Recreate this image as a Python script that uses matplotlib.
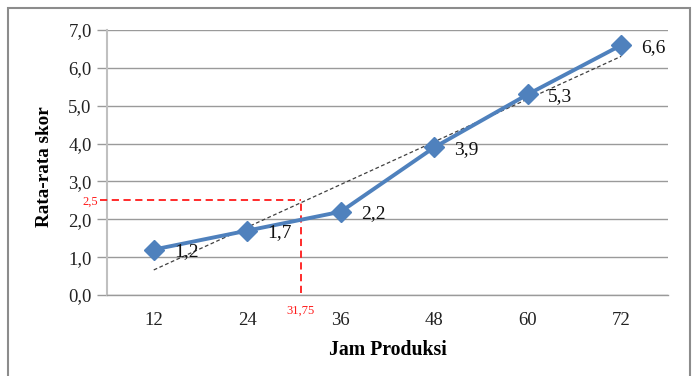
import matplotlib
matplotlib.use("Agg")
import matplotlib.pyplot as plt
import numpy as np
from matplotlib.patches import Rectangle

categories = ["12", "24", "36", "48", "60", "72"]
values = [1.2, 1.7, 2.2, 3.9, 5.3, 6.6]
value_labels = ["1,2", "1,7", "2,2", "3,9", "5,3", "6,6"]
yticks = [0, 1, 2, 3, 4, 5, 6, 7]
ytick_labels = ["0,0", "1,0", "2,0", "3,0", "4,0", "5,0", "6,0", "7,0"]
ref_y = 2.5
ref_y_label = "2,5"
ref_x_label = "31,75"

plt.rcParams['font.family'] = ['Liberation Serif', 'DejaVu Serif']

fig = plt.figure(figsize=(6.94, 3.76), dpi=100)
ax = fig.add_axes([107/694, 1-295/376, 561/694, 265/376])

x = np.arange(len(categories))
ax.set_xlim(-0.5, len(categories)-0.5)
ax.set_ylim(0, 7)

grid_c = '#9a9a9a'
ax.set_yticks(yticks)
ax.set_yticklabels(ytick_labels, fontsize=13.5, color='#222222')
ax.yaxis.grid(True, color=grid_c, lw=1.0)
ax.set_axisbelow(True)
ax.set_xticks(x)
ax.set_xticklabels(categories, fontsize=13.5, color='#222222')
ax.tick_params(axis='y', length=7, width=1.0, color=grid_c, pad=4)
ax.tick_params(axis='x', length=0, pad=12)
for s in ['top', 'right']:
    ax.spines[s].set_visible(False)
ax.spines['left'].set_color('#c0c0c0')
ax.spines['left'].set_linewidth(1.5)
ax.spines['bottom'].set_color(grid_c)
ax.spines['bottom'].set_linewidth(1.0)

# linear trend line
coef = np.polyfit(x, values, 1)
trend = np.polyval(coef, x)
ax.plot(x, trend, color='#404040', lw=0.9, ls=(0, (3, 2)), zorder=3)

# main series
ax.plot(x, values, color='#4F81BD', lw=2.8, marker='D', markersize=10.5,
        markerfacecolor='#4F81BD', markeredgecolor='#4F81BD', zorder=4)
for xi, v, lab in zip(x, values, value_labels):
    ax.annotate(lab, (xi, v), xytext=(14.5, -1.5), textcoords='offset points',
                fontsize=14, va='center', ha='left', color='#111111', zorder=5)

# red reference lines
ref_x = 1.57
ax.plot([-0.57, ref_x], [ref_y, ref_y], color='#ff1a1a', lw=1.3, ls=(0, (4, 2.5)),
        clip_on=False, zorder=3)
ax.plot([ref_x, ref_x], [0.06, ref_y], color='#ff1a1a', lw=1.3, ls=(0, (4, 2.5)),
        zorder=3)
ax.text(-0.6, ref_y - 0.03, ref_y_label, color='#ff1a1a', fontsize=9, ha='right', va='center')
ax.text(ref_x, -0.27, ref_x_label, color='#ff1a1a', fontsize=9, ha='center', va='top')

ax.set_ylabel("Rata-rata skor", fontsize=13.8, fontweight='bold')
ax.yaxis.set_label_coords(-0.097, 0.485)
ax.set_xlabel("Jam Produksi", fontsize=14.2, fontweight='bold', labelpad=8)

fig.patches.append(Rectangle((8/694, -0.1), 682/694, 1.1 - 8/376, transform=fig.transFigure,
                             fill=False, edgecolor='#8c8c8c', lw=1.5))

fig.savefig("out.png", dpi=100)
